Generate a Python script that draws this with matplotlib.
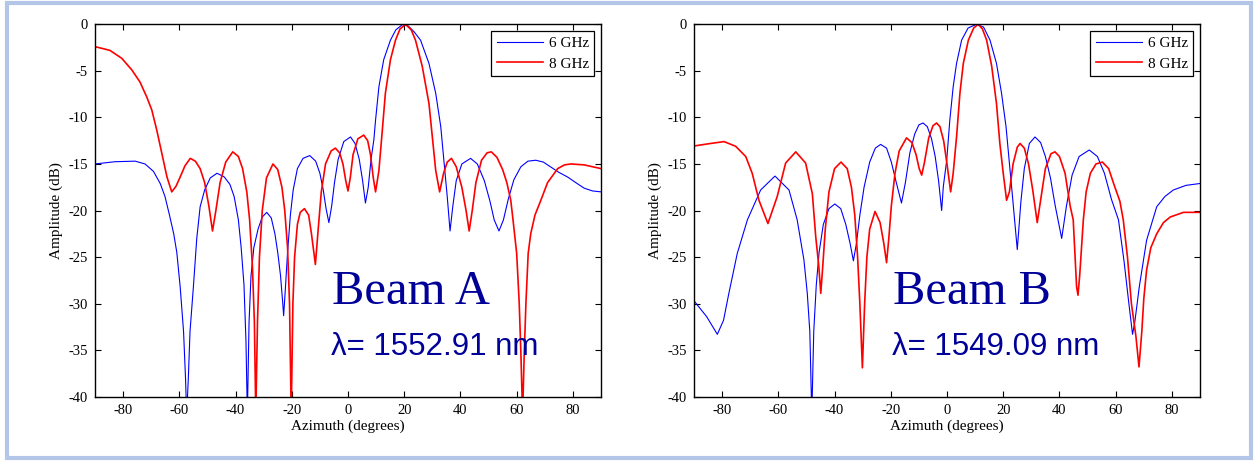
import matplotlib
matplotlib.use("Agg")
import matplotlib.pyplot as plt
from matplotlib.patches import Rectangle

plt.rcParams["axes.unicode_minus"] = False

# Beam A, 8 GHz (red)
a8_az = [-90, -84.7, -80.5, -76.9, -74, -71.6, -69.8, -68, -66.2, -64.4, -62.7, -61.2, -59.7,
         -58, -56.1, -54.3, -52.6, -51, -49.5, -48.2, -47, -45.5, -43.5, -41, -39, -37.5, -36,
         -35, -34, -33.3, -32.8, -32.2, -31.5, -30.5, -29, -26.7, -25, -23.5, -22.5, -21.5,
         -20.8, -20.2, -19.6, -19, -18, -17, -15.5, -14, -13, -11.6, -10.6, -9.5, -8, -6,
         -4.5, -3, -1.8, -0.8, 0, 0.8, 1.8, 3.5, 5.6, 7, 8, 9, 9.8, 11.0, 12.2, 13.3, 15.1,
         16.9, 18.5, 20.5, 22.5, 24.0, 26.4, 28.8, 30.0, 31.2, 32.6, 34, 35.3, 36.8, 38.5,
         40.5, 42, 43.1, 44.2, 45.5, 47.5, 49.5, 51, 53, 55, 56.5, 57.9, 58.7, 60.0, 60.9,
         61.5, 62.1, 62.7, 63.3, 64.1, 65.0, 66.5, 68.6, 71, 74.6, 77, 79.3, 84, 90]
a8_db = [-2.4, -2.8, -3.65, -4.9, -6.2, -7.8, -9.2, -11.4, -13.9, -16.4, -18.0, -17.4, -16.4,
         -15.2, -14.4, -14.7, -15.5, -17, -19.5, -22.2, -20, -17, -14.8, -13.7, -14.2, -15.5,
         -18, -21, -26, -32, -42, -32, -25, -20, -16.5, -15.0, -15.6, -17.5, -20, -24, -30,
         -42, -30, -25, -21.5, -20.2, -19.8, -20.5, -22.5, -25.8, -22, -18, -15, -13.6, -13.3,
         -13.8, -15, -16.8, -17.9, -16.5, -14, -12.3, -11.9, -12.5, -14, -16.5, -18.0, -15.7,
         -11.4, -7.4, -3.8, -1.7, -0.5, 0, -0.6, -1.7, -4.5, -8.5, -12.1, -15.7, -18.0, -16,
         -14.8, -14.4, -15.3, -17.5, -20, -22.2, -20, -17, -14.6, -13.8, -13.7, -14.3, -15.6,
         -17, -18.9, -21, -24.6, -29.9, -35.3, -42, -35.3, -29.9, -24.6, -22.5, -20.5, -18.9,
         -17, -15.5, -15.1, -15.0, -15.1, -15.5]

# Beam A, 6 GHz (blue)
a6_az = [-90, -82.9, -75.7, -72.2, -69.2, -66.8, -65.1, -63.5, -62, -60.9, -59.7, -58.5, -57.8,
         -57.4, -56.8, -56.2, -55, -53.8, -52.6, -51, -49, -46.6, -44, -42, -40.5, -39, -38,
         -37, -36.3, -35.8, -35.2, -34.5, -33.5, -32, -30.5, -28.9, -27.3, -26, -25, -24,
         -23.2, -22.9, -22.4, -21.5, -20.5, -19.5, -18, -16, -13.6, -11.5, -10, -8.8, -7.8,
         -6.8, -5.8, -4.8, -3.5, -1.5, 0.9, 2.5, 4, 5.2, 6.2, 7.2, 8.2, 9.2, 9.8, 11.0, 12.7,
         15.1, 17, 19.5, 21.5, 23.5, 25.8, 28.8, 31.2, 33.0, 34.1, 35.3, 36.3, 37.3, 38.5,
         40.5, 43.6, 46, 48.5, 50.5, 52, 53.7, 55.3, 57, 59, 61.5, 64, 66.8, 69.5, 72, 75,
         78.1, 81, 84, 87, 90]
a6_db = [-15.0, -14.76, -14.7, -15.0, -15.8, -17.1, -18.5, -20.5, -22.5, -24.5, -28.2, -33, -38,
         -42, -38, -33, -28.2, -23, -19.6, -17.8, -16.5, -16.0, -16.4, -17.2, -18.5, -21, -24,
         -28, -34, -42, -32, -27, -24, -22, -20.7, -20.2, -20.8, -22.5, -24.5, -27, -30, -31.3,
         -29, -24.5, -20.5, -17.8, -15.5, -14.4, -14.1, -14.7, -16, -17.8, -19.8, -21.3, -19.5,
         -17, -14.5, -12.6, -12.1, -12.8, -14.5, -16.8, -19.2, -17.5, -14.5, -12.4, -10.3,
         -6.7, -3.8, -1.7, -0.6, 0, -0.2, -0.8, -1.7, -4.2, -7.4, -11.0, -14.6, -18.5, -22.2,
         -19.5, -16.8, -15.0, -14.4, -15.0, -16.8, -19, -21, -22.2, -21, -18.8, -16.7, -15.3,
         -14.7, -14.6, -14.8, -15.3, -15.9, -16.4, -17, -17.6, -17.9, -18.0]

# Beam B, 8 GHz (red)
b8_az = [-90, -84.1, -79.3, -75.2, -71.6, -69.3, -66.9, -63.7, -60.4, -57.4, -53.8, -50.3,
         -47.9, -46.7, -45.6, -44.9, -44.2, -43.3, -42, -40, -37.7, -35.5, -34, -32.8, -31.8,
         -31, -30.1, -29.3, -28.5, -27.5, -25.6, -23.8, -22.5, -21.5, -20.7, -19.8, -18.5, -17,
         -14.4, -12.5, -11, -9.9, -9.0, -8, -6.5, -5, -3.7, -2.5, -1.2, 0, 1.3, 2.2, 3.4, 4.6,
         5.8, 7.6, 9.5, 11.1, 12.6, 14.1, 15.9, 17.6, 18.8, 20.0, 21.2, 22.2, 23.5, 25, 26,
         27.5, 29, 30.5, 32.1, 33.5, 35, 37, 38.4, 40, 42, 43.8, 44.9, 46.1, 46.6, 47.2, 48.5,
         49.5, 51, 53, 55.3, 57.5, 59.5, 61.5, 62.7, 64.2, 65.6, 67.2, 68.3, 69.3, 70, 71,
         72.5, 74.6, 77, 79.4, 84.1, 90]
b8_db = [-13.07, -12.8, -12.6, -13.1, -14.2, -16.0, -18.9, -21.4, -18.5, -14.9, -13.7, -14.9,
         -18.2, -22.8, -26, -28.9, -26, -22, -18, -15.5, -14.8, -15.5, -17.5, -20.5, -25, -30,
         -36.9, -30, -25, -22, -20.1, -21.3, -23.5, -25.6, -23, -19.5, -16, -13.6, -12.2,
         -12.7, -14, -15.5, -16.2, -14.8, -12.2, -10.9, -10.6, -11, -12.5, -15, -18.0, -16.0,
         -12.1, -7.4, -4.2, -1.7, -0.4, 0, -0.5, -1.7, -4.5, -8.5, -12.8, -16.0, -18.9, -18,
         -15, -13.2, -12.8, -13.3, -15, -17.8, -21.3, -18.5, -15.5, -13.9, -13.7, -14.2, -16,
         -19.5, -21, -28.2, -29.1, -27, -21, -18, -16, -15, -14.8, -15.5, -17.3, -19, -21,
         -25, -30, -33.5, -36.8, -33, -29.5, -26.4, -24, -22.5, -21.3, -20.7, -20.2, -20.2]

# Beam B, 6 GHz (blue)
b6_az = [-90, -85.5, -81.7, -79.5, -77.6, -74.6, -71.0, -66.3, -61.2, -56.2, -53.3, -50.9,
         -49.7, -48.8, -48.1, -47.4, -46.5, -45.5, -44, -42, -39.9, -37.8, -36, -34.5, -33.3,
         -32.2, -31, -29.5, -27.5, -25.5, -23.6, -21.5, -19.8, -18.2, -16.2, -14.8, -13.2,
         -11.5, -10, -8.5, -7, -5.5, -4.2, -3, -1.9, -1.3, -0.1, 1.0, 2.2, 3.4, 5.2, 7.5, 10.5,
         13, 15.3, 17.6, 19.4, 21.0, 22.1, 23.3, 25, 26.3, 27.5, 29.3, 31.3, 33.3, 35, 36.8,
         38.5, 40.8, 42.5, 44.5, 47, 50.6, 53.5, 56, 58.5, 61, 63, 64.7, 66, 66.8, 68.4, 71.0,
         74.6, 77.5, 80.5, 85, 90]
b6_db = [-29.7, -31.4, -33.3, -31.8, -28.9, -24.6, -21.0, -17.8, -16.3, -17.8, -21.0, -25.3,
         -28.9, -33, -42, -33, -28, -24.5, -21.5, -19.8, -19.3, -19.8, -21.5, -23.5, -25.4,
         -23.5, -20.5, -17.5, -14.8, -13.3, -12.9, -13.3, -14.8, -16.8, -19.2, -17, -13.8,
         -11.8, -10.8, -10.6, -11, -12.3, -14.2, -16.8, -20.0, -17.4, -14.6, -10.3, -6.7, -4.2,
         -1.7, -0.4, 0, -0.3, -1.7, -4.2, -7.4, -11.0, -14.6, -18.5, -24.2, -19, -15.5, -12.8,
         -12.1, -12.7, -14.2, -16.5, -19.5, -23.0, -19.5, -16.2, -14.2, -13.5, -14.2, -16,
         -18.8, -21, -25.5, -30, -33.3, -32, -28.2, -23.2, -19.6, -18.5, -17.8, -17.3, -17.1]

panels = [
    (a6_az, a6_db, a8_az, a8_db, "Beam A", "λ= 1552.91 nm", -5.6, -6.2),
    (b6_az, b6_db, b8_az, b8_db, "Beam B", "λ= 1549.09 nm", -19.1, -19.7),
]

W, H = 1258, 462
fig = plt.figure(figsize=(W / 100, H / 100), dpi=100)
fig.patches.append(Rectangle((7 / W, 4 / H), 1244 / W, 455 / H, transform=fig.transFigure,
                             fill=False, edgecolor="#b4c6e7", linewidth=3))

serif = "Liberation Serif"
lefts = [95, 694]
for left, (x6, y6, x8, y8, beam, lam, bx, lx) in zip(lefts, panels):
    ax = fig.add_axes([left / W, 1 - 396.7 / H, 506 / W, 372.4 / H])
    ax.plot(x6, y6, color="#0000ff", linewidth=0.8, label="6 GHz")
    ax.plot(x8, y8, color="#ff0000", linewidth=1.2, label="8 GHz")
    ax.set_xlim(-90, 90)
    ax.set_ylim(-40, 0)
    ax.set_xticks(range(-80, 81, 20))
    ax.set_yticks(range(-40, 1, 5))
    ax.tick_params(direction="in", top=True, right=True, length=4, width=0.8,
                   labelsize=10.5, pad=5)
    for lbl in ax.get_xticklabels() + ax.get_yticklabels():
        lbl.set_fontfamily(serif)
    for s in ax.spines.values():
        s.set_linewidth(1.0)
    ax.set_xlabel("Azimuth (degrees)", fontfamily=serif, fontsize=11, labelpad=2)
    ax.set_ylabel("Amplitude (dB)", fontfamily=serif, fontsize=11, labelpad=4)
    leg = ax.legend(loc="upper right", fancybox=False, edgecolor="black", framealpha=1,
                    prop={"family": serif, "size": 11}, borderaxespad=0.45,
                    handlelength=3.0, handletextpad=0.4, borderpad=0.35, labelspacing=0.45)
    leg.get_frame().set_linewidth(0.9)
    ax.text(bx, -30, beam, fontfamily=serif, fontsize=35, color="#000099")
    ax.text(lx, -35.5, lam, fontfamily="Liberation Sans", fontsize=22.5, color="#000099")

fig.savefig("out.png", dpi=100)
